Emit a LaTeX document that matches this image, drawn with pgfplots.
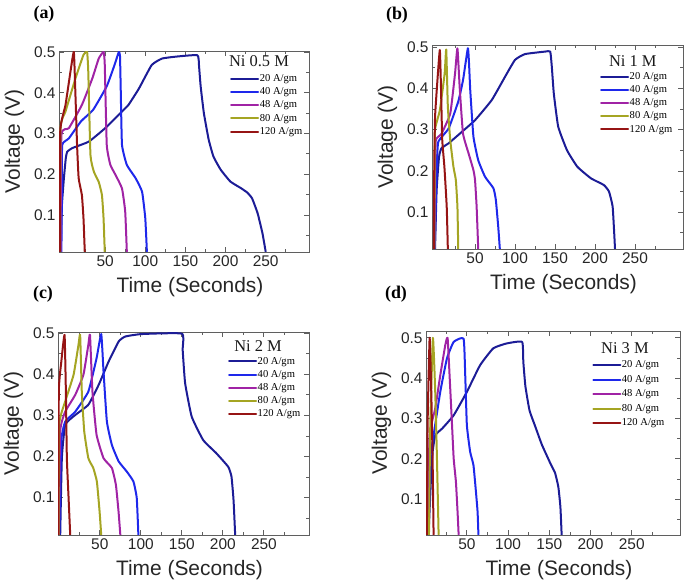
\documentclass[border=0pt]{standalone}
\usepackage{fontspec}
\setmainfont{Liberation Sans}
\newfontfamily\serif{Liberation Serif}
\usepackage{pgfplots}
\pgfplotsset{compat=1.18}

\definecolor{cA}{RGB}{28,28,150}
\definecolor{cB}{RGB}{30,40,235}
\definecolor{cC}{RGB}{160,35,165}
\definecolor{cD}{RGB}{165,165,35}
\definecolor{cE}{RGB}{150,20,20}
\definecolor{axgray}{RGB}{95,95,95}

\tikzset{ttl/.style={font=\serif\fontsize{16.5}{16.5}\selectfont, text=black!90}}
\pgfplotsset{
  panel/.style={
    scale only axis,
    anchor=south west,
    axis line style={axgray, line width=0.9bp},
    tick style={axgray, line width=0.8bp},
    major tick length=5bp, minor tick length=3bp,
    tick align=inside,
    xtick={50,100,150,200,250},
    ytick={0.1,0.2,0.3,0.4,0.5},
    minor xtick={25,75,125,175,225,275},
    minor ytick={0.05,0.15,0.25,0.35,0.45},
    xtick pos=both, ytick pos=both,
    xticklabel pos=lower, yticklabel pos=left,
    /pgf/number format/assume math mode=true,
    yticklabel style={/pgf/number format/fixed, /pgf/number format/precision=1, /pgf/number format/fixed zerofill},
    ticklabel style={font=\fontsize{15.5}{15.5}\selectfont, text=black!85},
    label style={font=\fontsize{21}{21}\selectfont, text=black!85},
    xlabel={Time (Seconds)}, ylabel={Voltage (V)},
    xlabel style={yshift=-4bp, xshift=6bp},
    ylabel style={yshift=3bp, xshift=10bp},
    every axis plot/.append style={line width=2bp, line join=round, line cap=round, smooth, tension=0.25},
    legend image code/.code={\draw[##1, line width=2bp] (0bp,0bp) -- (27bp,0bp);},
    legend cell align=left,
    legend style={draw=none, fill=none, anchor=north west, inner sep=0pt,
      font=\serif\fontsize{10.6}{12}\selectfont, row sep=2.7bp,
      nodes={inner sep=0pt, inner xsep=0.6bp, text height=8bp, text depth=2.5bp},
      /tikz/every even column/.append style={column sep=0pt}},
  },
}

\begin{document}
\begin{tikzpicture}
\useasboundingbox (0bp,0bp) rectangle (685bp,583bp);

% ---------------- (a) Ni 0.5 M ----------------
\begin{axis}[panel, at={(59bp,331bp)}, width=250bp, height=201bp,
  xmin=-7.5, xmax=304, ymin=0.009, ymax=0.5025,
  legend style={at={(0.684,0.889)}}]
\addplot[cA] coordinates {(-5.6,0.01) (-4,0.12) (-1.4,0.19) (1,0.24) (2.7,0.255) (8.9,0.264) (29.6,0.28) (50,0.313) (71,0.354) (79,0.37) (92,0.41) (108,0.468) (121,0.484) (140,0.489) (165,0.492) (167,0.465) (169,0.416) (173,0.35) (179,0.285) (185,0.243) (194,0.211) (206,0.182) (219,0.166) (227,0.155) (233,0.141) (240,0.104) (246,0.055) (250,0.01)};
\addplot[cB] coordinates {(-4.5,0.01) (-3.8,0.17) (-3.5,0.272) (4.8,0.288) (20,0.33) (35,0.358) (52,0.416) (62,0.47) (67,0.5) (68.5,0.49) (69.5,0.40) (71,0.272) (77,0.223) (88,0.19) (96,0.157) (100,0.092) (102,0.01)};
\addplot[cC] coordinates {(-5.5,0.01) (-4.5,0.296) (4.8,0.313) (21,0.37) (34,0.435) (42,0.484) (48,0.5) (49.5,0.47) (52,0.272) (56.5,0.223) (63,0.198) (71,0.165) (75,0.108) (77,0.01)};
\addplot[cD] coordinates {(-6,0.01) (-5.6,0.313) (0.6,0.354) (13,0.435) (23,0.493) (27.5,0.5) (29,0.45) (31.7,0.247) (36,0.206) (42,0.181) (46,0.149) (48,0.092) (49.5,0.01)};
\addplot[cE] coordinates {(-6.5,0.01) (-6,0.305) (0.6,0.37) (6.8,0.452) (11,0.5) (13,0.394) (15,0.272) (17,0.19) (21,0.149) (23,0.092) (24.6,0.01)};
\legend{20 A/gm,40 A/gm,48 A/gm,80 A/gm,120 A/gm}
\node[ttl] at (rel axis cs:0.8,0.948) {Ni 0.5 M};
\end{axis}

% ---------------- (b) Ni 1 M ----------------
\begin{axis}[panel, at={(432bp,334bp)}, width=251bp, height=204bp,
  xmin=-3.8, xmax=310, ymin=0.011, ymax=0.505,
  legend style={at={(0.669,0.872)}}]
\addplot[cA] coordinates {(0,0.011) (2,0.154) (5,0.234) (8,0.255) (17,0.267) (29,0.287) (50,0.323) (71,0.372) (87.5,0.428) (100,0.469) (112.5,0.483) (137.5,0.489) (144,0.489) (146,0.452) (148.5,0.387) (154,0.307) (165,0.25) (178,0.21) (195,0.182) (211,0.166) (217.5,0.15) (222,0.114) (224,0.049) (225,0.011)};
\addplot[cB] coordinates {(-0.5,0.011) (2,0.2) (4,0.27) (17,0.303) (29,0.368) (35,0.42) (41,0.497) (42.5,0.46) (44,0.396) (48,0.283) (54,0.226) (62.5,0.186) (73,0.158) (76,0.13) (79,0.065) (81,0.011)};
\addplot[cC] coordinates {(-1,0.011) (0,0.2) (1,0.275) (8,0.29) (19,0.339) (25,0.436) (28,0.497) (31,0.396) (35,0.29) (42,0.242) (48,0.202) (50,0.178) (52,0.113) (54,0.011)};
\addplot[cD] coordinates {(-1,0.011) (-0.5,0.2) (0,0.30) (6,0.347) (12,0.436) (14,0.494) (16,0.356) (19,0.275) (23,0.21) (26,0.178) (28,0.113) (29,0.011)};
\addplot[cE] coordinates {(-1.5,0.011) (-1,0.2) (0,0.33) (3,0.42) (6,0.493) (7.5,0.396) (9,0.275) (11.7,0.21) (14.6,0.113) (16,0.011)};
\legend{20 A/gm,40 A/gm,48 A/gm,80 A/gm,120 A/gm}
\node[ttl] at (rel axis cs:0.80,0.922) {Ni 1 M};
\end{axis}

% ---------------- (c) Ni 2 M ----------------
\begin{axis}[panel, at={(58bp,48bp)}, width=251bp, height=203bp,
  xmin=-1, xmax=305, ymin=0.009, ymax=0.503,
  legend style={at={(0.677,0.882)}}]
\addplot[cA] coordinates {(1.7,0.009) (3.7,0.196) (7.8,0.277) (20,0.301) (36,0.326) (48.5,0.374) (60.7,0.431) (73,0.48) (81,0.492) (101,0.498) (150,0.499) (151,0.459) (154,0.378) (162,0.297) (176,0.24) (192,0.208) (206.5,0.175) (210.5,0.151) (213,0.094) (215,0.009)};
\addplot[cB] coordinates {(0.5,0.009) (2.9,0.236) (7.8,0.285) (20,0.309) (36,0.358) (46,0.439) (51.7,0.498) (54.5,0.407) (58.6,0.285) (64.7,0.228) (73,0.188) (83,0.163) (91,0.139) (95,0.099) (97,0.009)};
\addplot[cC] coordinates {(0,0.009) (1.7,0.261) (7.8,0.309) (20,0.35) (30,0.399) (36,0.472) (38,0.496) (41,0.358) (46,0.253) (54.5,0.196) (64.7,0.172) (69.6,0.131) (72.8,0.066) (75,0.009)};
\addplot[cD] coordinates {(-0.3,0.009) (0.5,0.277) (7.8,0.334) (18,0.399) (24,0.472) (26,0.496) (28,0.358) (31,0.261) (36,0.196) (42,0.172) (46.4,0.139) (49.7,0.066) (51.7,0.009)};
\addplot[cE] coordinates {(-0.5,0.009) (0,0.358) (3,0.43) (7,0.496) (8.6,0.358) (9.8,0.196) (11.9,0.099) (13.9,0.009)};
\legend{20 A/gm,40 A/gm,48 A/gm,80 A/gm,120 A/gm}
\node[ttl] at (rel axis cs:0.797,0.932) {Ni 2 M};
\end{axis}

% ---------------- (d) Ni 3 M ----------------
\begin{axis}[panel, at={(426bp,48bp)}, width=254bp, height=204bp,
  xmin=0.4, xmax=308.6, ymin=0.011, ymax=0.517,
  legend style={at={(0.654,0.860)}, row sep=4bp}]
\addplot[cA] coordinates {(3.5,0.012) (7.6,0.2) (11.6,0.258) (20,0.275) (34,0.308) (50,0.366) (66,0.432) (82,0.474) (98,0.486) (117,0.49) (118.5,0.44) (121,0.38) (126,0.32) (133,0.28) (141,0.235) (151,0.19) (157,0.165) (161,0.13) (163.5,0.08) (165,0.011)};
\addplot[cB] coordinates {(2.4,0.012) (5.6,0.2) (9.6,0.258) (17.7,0.366) (25.8,0.449) (34,0.49) (46,0.498) (48,0.407) (50,0.283) (54,0.217) (58,0.184) (61,0.118) (63,0.068) (64,0.012)};
\addplot[cC] coordinates {(2.4,0.012) (4.8,0.258) (11.6,0.325) (17.7,0.407) (23.8,0.482) (26.6,0.5) (29,0.407) (32,0.283) (34,0.2) (36.7,0.143) (38.7,0.068) (40,0.012)};
\addplot[cD] coordinates {(4,0.012) (5.6,0.283) (8.8,0.5) (11.6,0.366) (13.7,0.2) (15.7,0.012)};
\addplot[cE] coordinates {(1.5,0.012) (2.3,0.283) (4.8,0.5) (6.8,0.366) (8.4,0.2) (9.6,0.012)};
\legend{20 A/gm,40 A/gm,48 A/gm,80 A/gm,120 A/gm}
\node[ttl] at (rel axis cs:0.783,0.915) {Ni 3 M};
\end{axis}

% panel letters
\node[font=\serif\bfseries\fontsize{18}{18}\selectfont] at (44bp,569bp) {(a)};
\node[font=\serif\bfseries\fontsize{18}{18}\selectfont] at (397bp,568bp) {(b)};
\node[font=\serif\bfseries\fontsize{18}{18}\selectfont] at (43bp,289bp) {(c)};
\node[font=\serif\bfseries\fontsize{18}{18}\selectfont] at (396bp,289bp) {(d)};
\end{tikzpicture}
\end{document}
